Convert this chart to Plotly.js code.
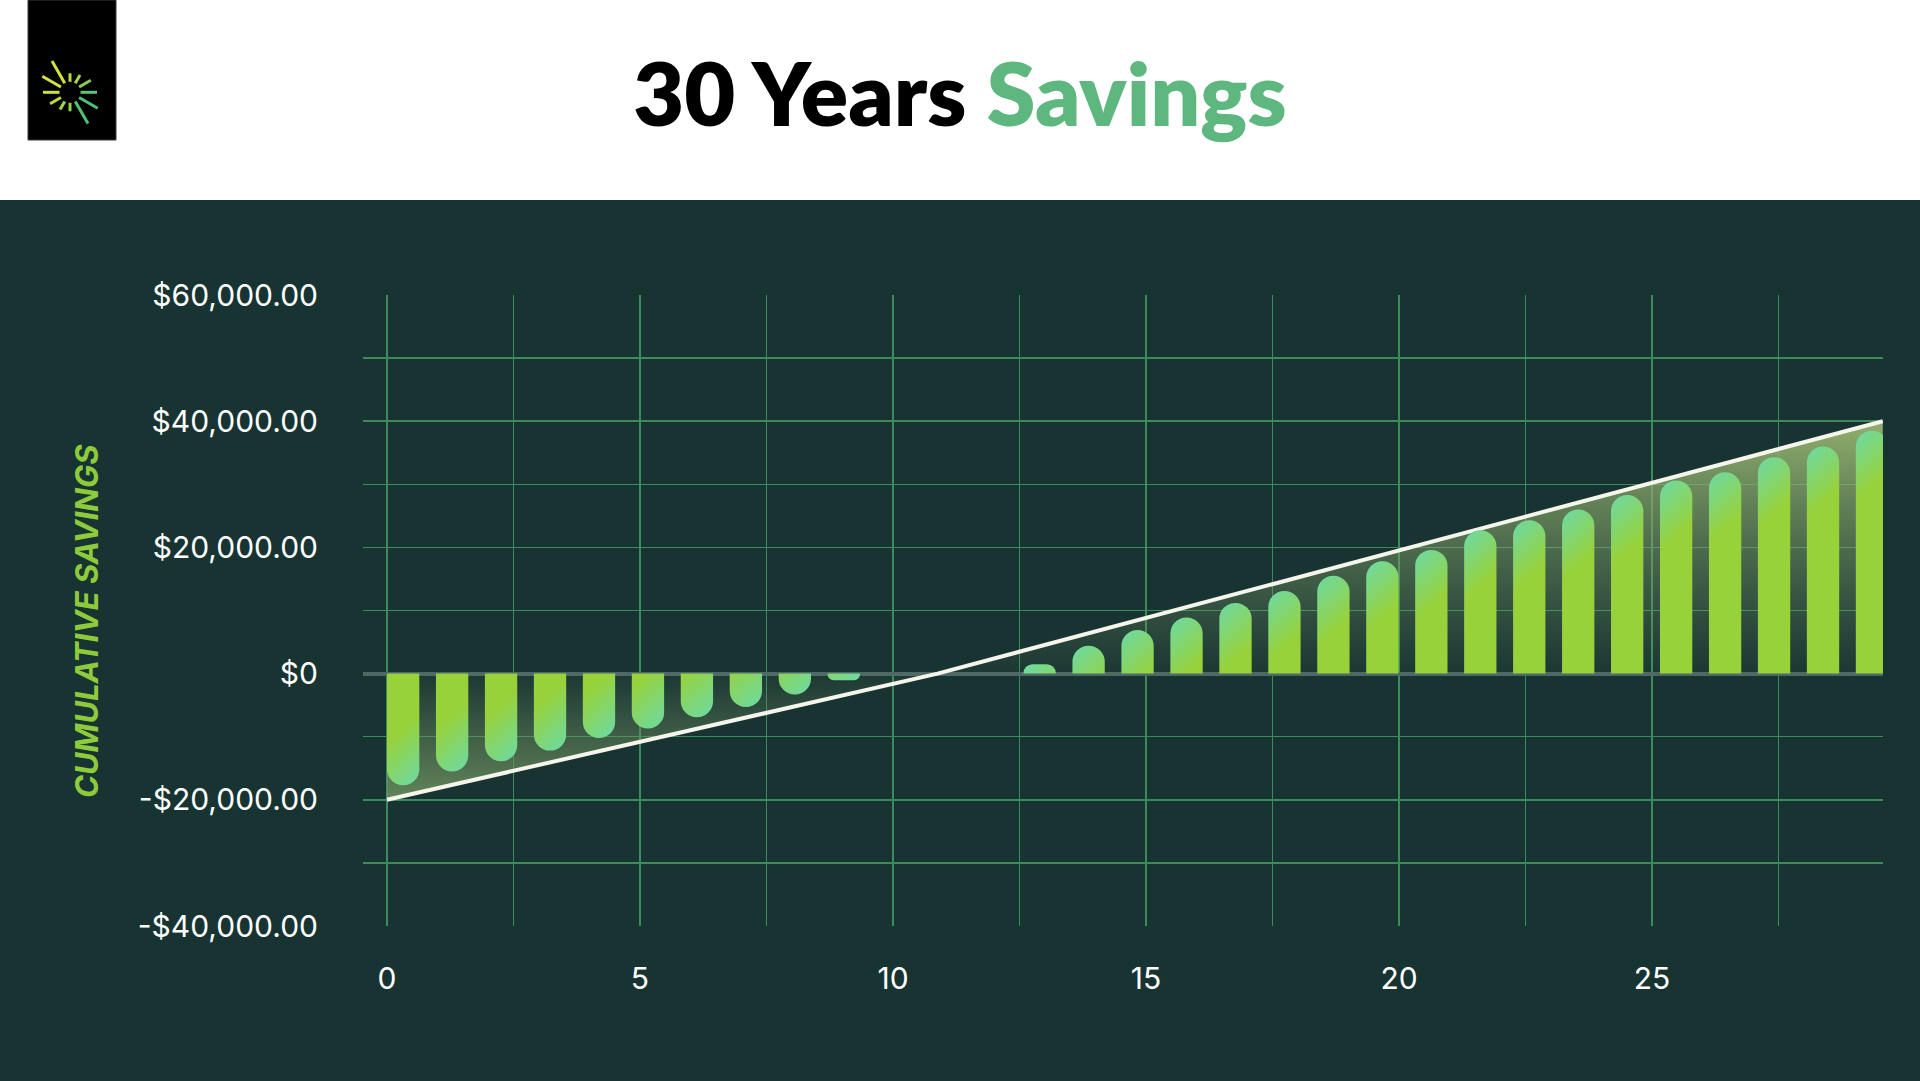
<!DOCTYPE html>
<html>
<head>
<meta charset="utf-8">
<script src="https://cdn.plot.ly/plotly-3.0.1.min.js"></script>
<style>
    html, body { margin: 0; padding: 0; background: #183432; }
    #chart { width: 1920px; height: 1081px; }
</style>
</head>
<body>
<div id="chart"></div>
<script>
/* ─── 30 Years Savings ─── */
/* Cumulative savings bars, break-even trend line, branded header */

// Bars: cumulative savings at the end of each year (years 10-12 not drawn)
const years = [0, 1, 2, 3, 4, 5, 6, 7, 8, 9, 10, 11, 12, 13, 14, 15,
    16, 17, 18, 19, 20, 21, 22, 23, 24, 25, 26, 27, 28, 29, 30];
const savings = [-17700, -15500, -13900, -12200, -10200, -8700, -6900, -5300, -3300, -1050,
    null, null, null,
    1500, 4400, 6900, 8900, 11200, 13100, 15500, 17800, 19600, 22700,
    24300, 26000, 28300, 30600, 31900, 34300, 36000, 38500];

// Trend line (break-even around year 10.9)
const trendX = [0, 10.88, 29.56];
const trendY = [-20000, 0, 40000];

// Axis ticks
const xTickVals = [0, 5, 10, 15, 20, 25];
const yTickVals = [-40000, -20000, 0, 20000, 40000, 60000];
const yTickText = ['-$40,000.00', '-$20,000.00', '$0', '$20,000.00', '$40,000.00', '$60,000.00'];

const W = 1920, H = 1081;
const BG = '#183432';
const GRID = '#3D8A5C';
const LIME = '#98D23A';
const TEAL = '#70D99C';
const TICK_FONT = { family: 'Inter, sans-serif', size: 30, color: '#FFFFFF' };

// pixel -> paper (margins are 0, so paper is the whole page)
const px = x => x / W;
const py = y => 1 - y / H;

// Logo starburst: 12 rays, every 30 degrees
const rayLen = [27, 24, 20, 19, 36, 32, 27, 23, 20, 19, 36, 32];
const rayColor = ['#58C574', '#86CF55', '#A4D648', '#B5DA42', '#D2E23C', '#D6E33A',
    '#CFE13C', '#BDDC40', '#A2D548', '#8ED152', '#4FC27A', '#4CC17C'];

function logoShapes() {
    const cx = 70, cy = 92.3, r0 = 10.5;
    return rayLen.map((len, i) => {
        const a = i * Math.PI / 6;
        return {
            type: 'line', xref: 'paper', yref: 'paper', layer: 'above',
            x0: px(cx + r0 * Math.cos(a)), y0: py(cy - r0 * Math.sin(a)),
            x1: px(cx + len * Math.cos(a)), y1: py(cy - len * Math.sin(a)),
            line: { color: rayColor[i], width: 3 },
        };
    });
}

function buildChart() {
    const trend = {
        type: 'scatter',
        x: trendX,
        y: trendY,
        mode: 'lines',
        line: { color: '#F6F5EC', width: 4 },
        fill: 'tozeroy',
        fillgradient: {
            type: 'vertical',
            start: -20000,
            stop: 40000,
            colorscale: [
                [0, 'rgba(112,148,96,0.85)'],
                [0.3333, 'rgba(110,145,96,0.04)'],
                [1, 'rgba(152,182,112,0.95)'],
            ],
        },
        hoverinfo: 'skip',
        cliponaxis: false,
    };

    const bars = {
        type: 'bar',
        x: years,
        y: savings,
        xaxis: 'x2',
        yaxis: 'y',
        width: 0.66,
        marker: { color: LIME, cornerradius: '50%', line: { width: 0 } },
        cliponaxis: false,
        hoverinfo: 'skip',
    };

    const layout = {
        width: W,
        height: H,
        margin: { l: 0, r: 0, t: 0, b: 0 },
        paper_bgcolor: BG,
        plot_bgcolor: 'rgba(0,0,0,0)',
        showlegend: false,
        font: { family: 'Inter, sans-serif', color: '#FFFFFF' },
        title: {
            text: '30 Years <span style="color:#5DB77F">Savings</span>',
            x: 0.5, xanchor: 'center',
            y: py(95), yanchor: 'middle',
            font: { family: 'Lato, sans-serif', size: 88, weight: 800, color: '#000000' },
        },
        xaxis: {
            domain: [px(363), px(1883)],
            range: [-0.474, 29.565],
            tickvals: xTickVals,
            ticks: '',
            showgrid: true, gridcolor: GRID, gridwidth: 1.5,
            minor: { tick0: 0, dtick: 2.5, showgrid: true, gridcolor: GRID, gridwidth: 1.5 },
            zeroline: false, showline: false,
            ticklabelstandoff: 32,
            tickfont: TICK_FONT,
            fixedrange: true,
        },
        xaxis2: {
            overlaying: 'x',
            range: [-0.82, 30.225],
            visible: false,
            fixedrange: true,
        },
        yaxis: {
            domain: [py(926), py(295)],
            range: [-40000, 60000],
            tickvals: yTickVals,
            ticktext: yTickText,
            ticks: '',
            showgrid: true, gridcolor: GRID, gridwidth: 1.5,
            minor: { tick0: 0, dtick: 10000, showgrid: true, gridcolor: GRID, gridwidth: 1.5 },
            zeroline: true, zerolinecolor: '#4E6865', zerolinewidth: 4,
            showline: false,
            ticklabelstandoff: 44,
            tickfont: TICK_FONT,
            fixedrange: true,
        },
        annotations: [{
            text: '<i>CUMULATIVE SAVINGS</i>',
            xref: 'paper', yref: 'paper',
            x: px(86), y: py(621),
            xanchor: 'center', yanchor: 'middle',
            textangle: -90, showarrow: false,
            font: { family: 'Inter, sans-serif', size: 31, weight: 700, color: '#8DCB3B' },
        }],
        shapes: [
            // white header band
            { type: 'rect', xref: 'paper', yref: 'paper', layer: 'below',
              x0: 0, x1: 1, y0: py(200), y1: 1, fillcolor: '#FFFFFF', line: { width: 0 } },
            // logo tile
            { type: 'rect', xref: 'paper', yref: 'paper', layer: 'below',
              x0: px(28), x1: px(116), y0: py(140), y1: 1, fillcolor: '#000000',
              line: { color: '#3A3A3A', width: 1 } },
            ...logoShapes(),
        ],
    };

    const config = { staticPlot: true, displayModeBar: false, responsive: false };
    return Plotly.newPlot('chart', [trend, bars], layout, config);
}

// Diagonal teal -> lime shading on each bar, teal at the rounded tip
function applyBarGradients(gd) {
    const NS = 'http://www.w3.org/2000/svg';
    const svg = gd.querySelector('.main-svg');
    let defs = svg.querySelector('defs');
    if (!defs) defs = svg.insertBefore(document.createElementNS(NS, 'defs'), svg.firstChild);

    gd.querySelectorAll('.barlayer .trace').forEach(tr => {
        tr.querySelectorAll('.point path').forEach((path, i) => {
            const v = savings[i];
            if (v == null) return;
            const b = path.getBBox();
            if (!b.width || !b.height) return;
            const w = b.width;
            const g = document.createElementNS(NS, 'linearGradient');
            g.setAttribute('id', 'bar-grad-' + i);
            g.setAttribute('gradientUnits', 'userSpaceOnUse');
            if (v > 0) {
                g.setAttribute('x1', b.x); g.setAttribute('y1', b.y + 0.2 * w);
                g.setAttribute('x2', b.x + w); g.setAttribute('y2', b.y + 1.3 * w);
            } else {
                g.setAttribute('x1', b.x + w); g.setAttribute('y1', b.y + b.height - 0.2 * w);
                g.setAttribute('x2', b.x); g.setAttribute('y2', b.y + b.height - 1.3 * w);
            }
            [[0, TEAL], [1, LIME]].forEach(([o, c]) => {
                const s = document.createElementNS(NS, 'stop');
                s.setAttribute('offset', o);
                s.setAttribute('stop-color', c);
                g.appendChild(s);
            });
            defs.appendChild(g);
            path.style.fill = `url(#bar-grad-${i})`;
        });
    });
}

buildChart().then(applyBarGradients);
</script>
</body>
</html>
